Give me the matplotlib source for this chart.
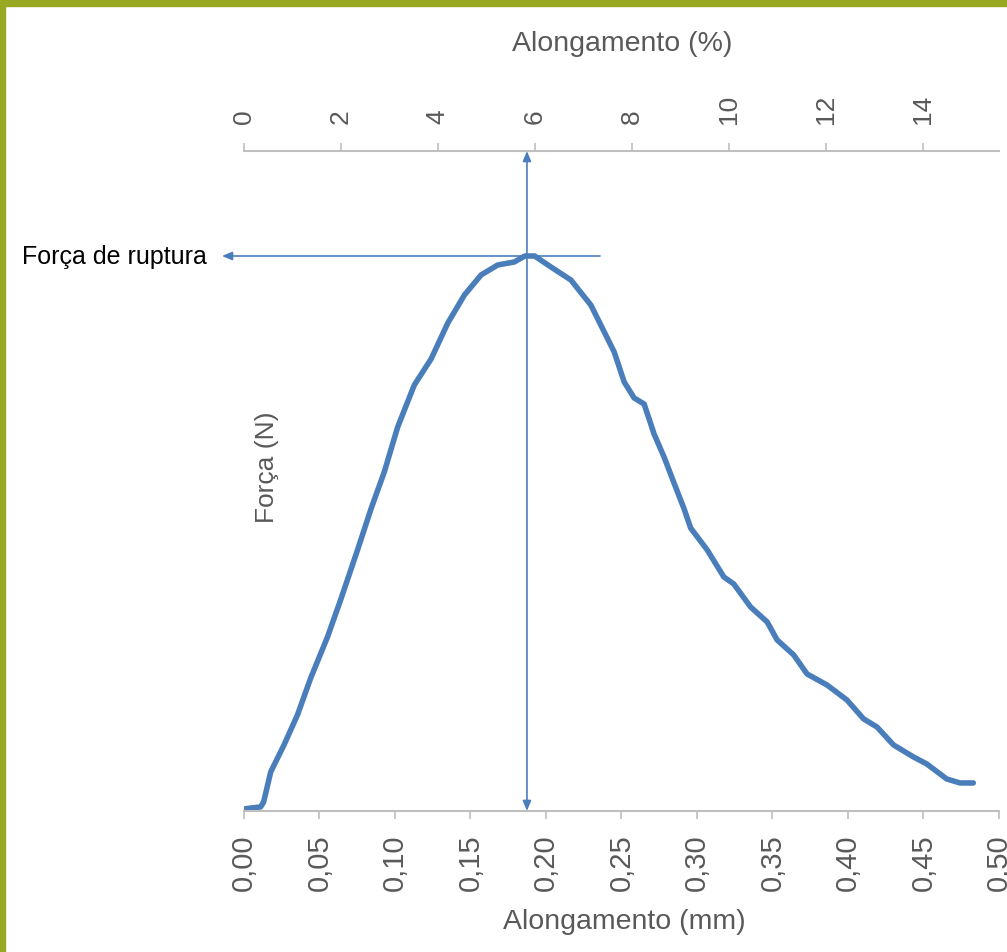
import matplotlib
matplotlib.use("Agg")
import matplotlib.pyplot as plt
from matplotlib.patches import Rectangle

plt.rcParams['font.family'] = ['Liberation Sans', 'DejaVu Sans']

# curva força x alongamento
alongamento_mm = [0.000, 0.005, 0.011, 0.013, 0.0177, 0.0265, 0.0354, 0.0442, 0.0553,
                  0.0642, 0.0752, 0.0841, 0.0929, 0.1018, 0.1128, 0.1239, 0.135, 0.146,
                  0.157, 0.168, 0.179, 0.186, 0.1925, 0.2033, 0.2165, 0.2297, 0.2363,
                  0.2452, 0.2518, 0.2584, 0.265, 0.2716, 0.2782, 0.2848, 0.2915, 0.2958,
                  0.3068, 0.3178, 0.3244, 0.3355, 0.3465, 0.3531, 0.3641, 0.3729, 0.3861,
                  0.3993, 0.4104, 0.4192, 0.4302, 0.4434, 0.4522, 0.4654, 0.4742, 0.483]
forca = [0.2, 0.3, 0.4, 0.9, 3.9, 6.6, 9.6, 13.3, 17.4,
         21.2, 26.1, 30.2, 33.9, 38.4, 42.6, 45.2, 48.8, 51.6,
         53.6, 54.6, 54.9, 55.5, 55.5, 54.4, 53.1, 50.6, 48.6,
         45.9, 42.9, 41.3, 40.7, 37.7, 35.4, 32.8, 30.2, 28.3,
         26.1, 23.4, 22.7, 20.4, 18.9, 17.1, 15.6, 13.7, 12.6,
         11.1, 9.2, 8.4, 6.6, 5.4, 4.7, 3.2, 2.8, 2.8]

ticks_mm = [0.00, 0.05, 0.10, 0.15, 0.20, 0.25, 0.30, 0.35, 0.40, 0.45, 0.50]
labels_mm = ['0,00', '0,05', '0,10', '0,15', '0,20', '0,25', '0,30', '0,35', '0,40', '0,45', '0,50']
ticks_pct = [0, 2, 4, 6, 8, 10, 12, 14]

comprimento_inicial = 3.21  # mm
x_ruptura = 0.1874
f_ruptura = 55.5

azul = '#4a7ebb'
cinza = '#595959'
eixo = '#bfbfbf'

fig = plt.figure(figsize=(10.07, 9.53), dpi=100)
ax = fig.add_axes([0.2423, 0.148, 0.7497, 0.6925])

ax.plot(alongamento_mm, forca, color=azul, lw=4, solid_joinstyle='round',
        solid_capstyle='round', zorder=2)

ax.set_xlim(0, 0.5)
ax.set_ylim(0, 66)
ax.set_yticks([])
for s in ['left', 'right', 'top']:
    ax.spines[s].set_visible(False)
ax.spines['bottom'].set_color(eixo)
ax.spines['bottom'].set_linewidth(1.5)
ax.set_xticks(ticks_mm)
ax.set_xticklabels(labels_mm, rotation=90)
ax.tick_params(axis='x', colors=eixo, length=6, width=1.2, pad=10,
               labelsize=21, labelcolor=cinza)

sec = ax.secondary_xaxis('top', functions=(lambda x: x / comprimento_inicial * 100,
                                           lambda p: p * comprimento_inicial / 100))
sec.set_xticks(ticks_pct)
sec.set_xticklabels([str(t) for t in ticks_pct], rotation=90)
sec.spines['top'].set_color(eixo)
sec.spines['top'].set_linewidth(1.5)
sec.tick_params(axis='x', colors=eixo, length=6, width=1.2, pad=14,
                labelsize=19, labelcolor=cinza)

# setas
ax.annotate('', xy=(x_ruptura, 66), xytext=(x_ruptura, 0),
            arrowprops=dict(arrowstyle='<|-|>,head_length=0.6,head_width=0.25',
                            color=azul, lw=1.2, shrinkA=0, shrinkB=0),
            annotation_clip=False, zorder=3)
ax.annotate('', xy=(-0.0146, f_ruptura), xytext=(0.2358, f_ruptura),
            arrowprops=dict(arrowstyle='-|>,head_length=0.6,head_width=0.25',
                            color=azul, lw=1.2, shrinkA=0, shrinkB=0),
            annotation_clip=False, zorder=3)

ax.text(0.0152, 34.5, 'Força (N)', rotation=90, ha='center', va='center',
        fontsize=19, color=cinza)
fig.text(22 / 1007, 1 - 257 / 953, 'Força de ruptura', ha='left', va='center',
         fontsize=18, color='black')
fig.text(622 / 1007, 1 - 44 / 953, 'Alongamento (%)', ha='center', va='center',
         fontsize=20.5, color=cinza)
fig.text(624 / 1007, 1 - 922 / 953, 'Alongamento (mm)', ha='center', va='center',
         fontsize=20.5, color=cinza)

# moldura verde
verde = '#99a823'
fig.patches.append(Rectangle((0, 1 - 7 / 953), 1, 7 / 953, transform=fig.transFigure,
                             color=verde, zorder=10))
fig.patches.append(Rectangle((0, 0), 5 / 1007, 1, transform=fig.transFigure,
                             color=verde, zorder=10))

fig.savefig('out.png', dpi=100)
